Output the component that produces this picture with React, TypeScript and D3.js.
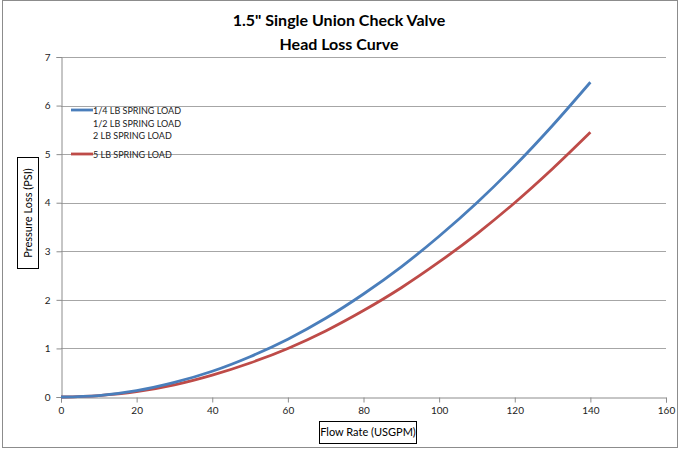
import * as d3 from "d3";
import { useEffect, useRef } from "react";

// flow rate (USGPM)
const flow = [0, 10, 20, 30, 40, 50, 60, 70, 80, 90, 100, 110, 120, 130, 140];
// pressure loss (PSI)
const lossLight = [0, 0.03, 0.13, 0.3, 0.53, 0.83, 1.19, 1.62, 2.12, 2.68, 3.31, 4.0, 4.76, 5.59, 6.48];
const lossHeavy = [0, 0.03, 0.11, 0.25, 0.45, 0.7, 1.0, 1.36, 1.78, 2.25, 2.78, 3.36, 4.0, 4.7, 5.45];

const legendLabels = ["1/4 LB SPRING LOAD", "1/2 LB SPRING LOAD", "2 LB SPRING LOAD", "5 LB SPRING LOAD"];
const xTicks = [0, 20, 40, 60, 80, 100, 120, 140, 160];
const yTicks = [0, 1, 2, 3, 4, 5, 6, 7];

const width = 679;
const height = 449;
const font = "Lato, 'Open Sans', sans-serif";

const App = () => {
  const ref = useRef(null);

  useEffect(() => {
    const svg = d3.select(ref.current);
    svg.selectAll("*").remove();

    const x = d3.scaleLinear().domain([0, 160]).range([61, 666]);
    const y = d3.scaleLinear().domain([0, 7]).range([397, 57]);

    // outer frame
    svg.append("rect")
      .attr("x", 2.5).attr("y", 0.5)
      .attr("width", 675).attr("height", 447)
      .attr("fill", "#fff").attr("stroke", "#8c8c8c");

    // title
    svg.append("text")
      .attr("x", 339).attr("y", 26)
      .attr("text-anchor", "middle")
      .style("font", `bold 16px ${font}`)
      .text('1.5" Single Union Check Valve');
    svg.append("text")
      .attr("x", 339).attr("y", 50)
      .attr("text-anchor", "middle")
      .style("font", `bold 16px ${font}`)
      .text("Head Loss Curve");

    // gridlines
    svg.append("g")
      .selectAll("line")
      .data(yTicks.filter((d) => d > 0))
      .enter()
      .append("line")
      .attr("x1", x(0)).attr("x2", x(160))
      .attr("y1", (d) => Math.round(y(d)) + 0.5)
      .attr("y2", (d) => Math.round(y(d)) + 0.5)
      .attr("stroke", "#a6a6a6");

    // axes
    const xAxis = svg.append("g")
      .attr("transform", `translate(0,${Math.round(y(0)) + 0.5})`)
      .call(d3.axisBottom(x).tickValues(xTicks).tickFormat(d3.format("d")).tickSize(5).tickPadding(4));
    const yAxis = svg.append("g")
      .attr("transform", `translate(${Math.round(x(0)) + 0.5},0)`)
      .call(d3.axisLeft(y).tickValues(yTicks).tickFormat(d3.format("d")).tickSize(5).tickPadding(6));
    [xAxis, yAxis].forEach((g) => {
      g.select(".domain").attr("stroke", "#8c8c8c");
      g.selectAll(".tick line").attr("stroke", "#8c8c8c");
      g.selectAll(".tick text")
        .style("font", `10px ${font}`)
        .attr("fill", "#222");
    });

    // curves
    const line = d3.line()
      .x((d) => x(d[0]))
      .y((d) => y(d[1]))
      .curve(d3.curveMonotoneX);
    const series = [
      { values: lossHeavy, color: "#be4b48" },
      { values: lossLight, color: "#4a7ebb" },
    ];
    svg.append("g")
      .selectAll("path")
      .data(series)
      .enter()
      .append("path")
      .attr("d", (s) => line(flow.map((f, i) => [f, s.values[i]])))
      .attr("fill", "none")
      .attr("stroke", (s) => s.color)
      .attr("stroke-width", 2.8);

    // legend
    const legendY = [110, 123, 135, 154];
    const legend = svg.append("g");
    legend.selectAll("text")
      .data(legendLabels)
      .enter()
      .append("text")
      .attr("x", 93)
      .attr("y", (_, i) => legendY[i] + 3.5)
      .style("font", `9px ${font}`)
      .attr("fill", "#222")
      .text((d) => d);
    legend.append("line")
      .attr("x1", 71).attr("x2", 93)
      .attr("y1", legendY[0]).attr("y2", legendY[0])
      .attr("stroke", "#4a7ebb").attr("stroke-width", 2.8);
    legend.append("line")
      .attr("x1", 71).attr("x2", 93)
      .attr("y1", legendY[3]).attr("y2", legendY[3])
      .attr("stroke", "#be4b48").attr("stroke-width", 2.8);

    // y axis title box
    svg.append("rect")
      .attr("x", 17.5).attr("y", 157.5)
      .attr("width", 21).attr("height", 111)
      .attr("fill", "#fff").attr("stroke", "#000");
    svg.append("text")
      .attr("transform", "translate(31.5,213) rotate(-90)")
      .attr("text-anchor", "middle")
      .style("font", `11px ${font}`)
      .text("Pressure Loss (PSI)");

    // x axis title box
    svg.append("rect")
      .attr("x", 319.5).attr("y", 421.5)
      .attr("width", 97).attr("height", 22)
      .attr("fill", "#fff").attr("stroke", "#000");
    svg.append("text")
      .attr("x", 368).attr("y", 436)
      .attr("text-anchor", "middle")
      .style("font", `11px ${font}`)
      .text("Flow Rate (USGPM)");
  }, []);

  return (
    <svg
      ref={ref}
      width={width}
      height={height}
      style={{ position: "absolute", left: 0, top: 0, background: "#fff" }}
    />
  );
};

export default App;
